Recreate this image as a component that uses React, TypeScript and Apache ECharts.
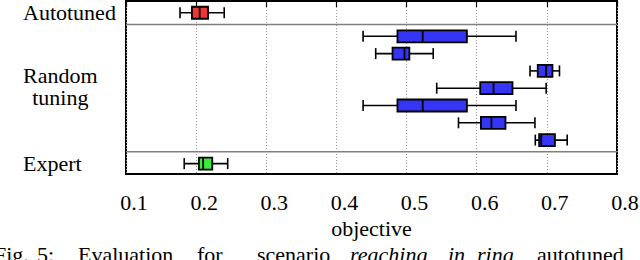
import React, { useEffect, useRef } from 'react';
import * as echarts from 'echarts';

// ---- data ----
const groupNames = ['Autotuned', 'Random\ntuning', 'Expert'];
const rowGroup = [0, 1, 1, 1, 1, 1, 1, 1, 2];
const whiskerLow = [0.177, 0.438, 0.456, 0.676, 0.543, 0.438, 0.574, 0.6835, 0.183];
const quartile1 = [0.194, 0.487, 0.48, 0.687, 0.605, 0.487, 0.606, 0.689, 0.204];
const medians = [0.205, 0.523, 0.497, 0.699, 0.624, 0.523, 0.621, 0.692, 0.21];
const quartile3 = [0.217, 0.586, 0.504, 0.708, 0.651, 0.586, 0.641, 0.7115, 0.223];
const whiskerHigh = [0.24, 0.656, 0.538, 0.718, 0.699, 0.656, 0.683, 0.729, 0.245];
const xMin = 0.1;
const xMax = 0.8;
const xStep = 0.1;
const axisName = 'objective';
const captionParts = ['Fig.', '5:', 'Evaluation', 'for', 'scenario', 'reaching', 'in', 'ring', 'autotuned'];
const captionItalic = [false, false, false, false, false, true, true, true, false];

// ---- layout / style ----
const FONT = 'Liberation Serif, Times New Roman, Times, DejaVu Serif, serif';
const FS = 22;
const groupColors = ['#f03535', '#3535f5', '#3ee83e'];
const ROW_OFFSET = 0.68;
const GROUP_GAP = 0.36;
const Y_MAX = 10;
const LABEL_X = 23;
const captionX = [-6, 37, 78, 197, 257, 350, 448, 477, 537];

const rowPos = (i: number) => ROW_OFFSET + i + rowGroup[i] * GROUP_GAP;

function measure(text: string): number {
  const c = document.createElement('canvas');
  const ctx = c.getContext('2d')!;
  ctx.font = `${FS}px ${FONT}`;
  return Math.max(...text.split('\n').map((t) => ctx.measureText(t).width));
}

export default function App() {
  const ref = useRef<HTMLDivElement>(null);
  useEffect(() => {
    document.body.style.margin = '0';
    const chart = echarts.init(ref.current!, null, { renderer: 'svg' });

    const boxData = rowGroup.map((g, i) => [
      rowPos(i),
      whiskerLow[i],
      quartile1[i],
      medians[i],
      quartile3[i],
      whiskerHigh[i],
      g,
    ]);

    const sepData: number[][] = [];
    for (let i = 1; i < rowGroup.length; i++) {
      if (rowGroup[i] !== rowGroup[i - 1]) {
        sepData.push([xMin, (rowPos(i) + rowPos(i - 1)) / 2]);
      }
    }

    const labelData = groupNames.map((_, g) => {
      const idx = rowGroup.map((gg, i) => (gg === g ? i : -1)).filter((i) => i >= 0);
      const c = idx.reduce((s, i) => s + rowPos(i), 0) / idx.length;
      return [xMin, c, g];
    });

    chart.setOption({
      animation: false,
      textStyle: { fontFamily: FONT },
      grid: {
        left: 126,
        top: 1,
        width: 491,
        height: 173,
        show: true,
        borderColor: '#000',
        borderWidth: 2,
        backgroundColor: 'transparent',
        outerBoundsMode: 'none',
      },
      xAxis: {
        type: 'value',
        min: xMin,
        max: xMax,
        interval: xStep,
        name: axisName,
        nameLocation: 'middle',
        nameGap: 24,
        nameTextStyle: { fontFamily: FONT, fontSize: FS, color: '#000' },
        axisLine: { show: true, lineStyle: { color: '#000', width: 2 } },
        axisTick: { show: true, length: 6, lineStyle: { color: '#000', width: 1.2 } },
        axisLabel: {
          fontFamily: FONT,
          fontSize: FS,
          color: '#000',
          margin: 17,
          padding: [0, 0, 0, 16],
          formatter: (v: number) => v.toFixed(1),
        },
        splitLine: { show: true, lineStyle: { color: '#999', type: [1, 2], width: 1 } },
      },
      yAxis: {
        type: 'value',
        min: 0,
        max: Y_MAX,
        inverse: true,
        show: false,
        splitLine: { show: false },
      },
      series: [
        {
          type: 'custom',
          clip: false,
          data: sepData,
          encode: { x: 0, y: 1 },
          renderItem: (_p: any, api: any) => {
            const y = api.value(1);
            const a = api.coord([xMin, y]);
            const b = api.coord([xMax, y]);
            return {
              type: 'line',
              shape: { x1: a[0], y1: a[1], x2: b[0], y2: b[1] },
              style: { stroke: '#808080', lineWidth: 1.5 },
            };
          },
        },
        {
          type: 'custom',
          clip: false,
          data: boxData,
          encode: { x: [1, 2, 3, 4, 5], y: 0 },
          renderItem: (_p: any, api: any) => {
            const y = api.value(0);
            const lo = api.coord([api.value(1), y]);
            const b1 = api.coord([api.value(2), y]);
            const md = api.coord([api.value(3), y]);
            const b3 = api.coord([api.value(4), y]);
            const hi = api.coord([api.value(5), y]);
            const color = groupColors[api.value(6)];
            const cy = lo[1];
            const bh = 12;
            const ch = 11;
            const ln = { stroke: '#000', lineWidth: 1.6 };
            return {
              type: 'group',
              children: [
                { type: 'line', shape: { x1: lo[0], y1: cy, x2: hi[0], y2: cy }, style: ln },
                { type: 'line', shape: { x1: lo[0], y1: cy - ch / 2, x2: lo[0], y2: cy + ch / 2 }, style: ln },
                { type: 'line', shape: { x1: hi[0], y1: cy - ch / 2, x2: hi[0], y2: cy + ch / 2 }, style: ln },
                {
                  type: 'rect',
                  shape: { x: b1[0], y: cy - bh / 2, width: b3[0] - b1[0], height: bh },
                  style: { fill: color, stroke: '#000', lineWidth: 1.8 },
                },
                { type: 'line', shape: { x1: md[0], y1: cy - bh / 2, x2: md[0], y2: cy + bh / 2 }, style: { stroke: '#000', lineWidth: 1.8 } },
              ],
            };
          },
        },
        {
          type: 'custom',
          clip: false,
          data: labelData,
          encode: { x: 0, y: 1 },
          renderItem: (_p: any, api: any) => {
            const y = api.coord([xMin, api.value(1)])[1];
            const text = groupNames[api.value(2)];
            const w = measure(text);
            const multi = text.indexOf('\n') >= 0;
            return {
              type: 'text',
              x: LABEL_X + w / 2,
              y: multi ? y - 1.5 : y,
              style: {
                text,
                fontFamily: FONT,
                fontSize: FS,
                lineHeight: 22,
                fill: '#000',
                align: 'center',
                verticalAlign: 'middle',
              },
            };
          },
        },
      ],
      graphic: captionParts.map((t, i) => ({
        type: 'text',
        x: captionX[i],
        y: 254,
        style: {
          text: t,
          fontFamily: FONT,
          fontSize: FS,
          fontStyle: captionItalic[i] ? 'italic' : 'normal',
          fill: '#000',
          align: 'left',
          verticalAlign: 'middle',
        },
      })),
    });
    return () => chart.dispose();
  }, []);
  return <div ref={ref} style={{ width: 640, height: 260 }} />;
}
